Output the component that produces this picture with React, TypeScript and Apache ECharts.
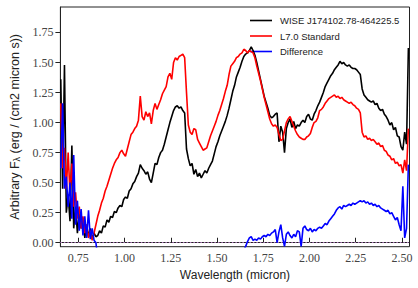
import React, { useEffect, useRef } from "react";
import * as echarts from "echarts";

// Wavelength grid (micron)
const wavelength = [
  0.655, 0.665, 0.675, 0.685, 0.695, 0.705, 0.715, 0.725, 0.735, 0.745,
  0.755, 0.765, 0.775, 0.785, 0.795, 0.805, 0.815, 0.825, 0.835, 0.845,
  0.855, 0.865, 0.875, 0.885, 0.895, 0.905, 0.915, 0.925, 0.935, 0.945,
  0.955, 0.965, 0.975, 0.985, 0.995, 1.005, 1.015, 1.025, 1.035, 1.045,
  1.055, 1.065, 1.075, 1.085, 1.095, 1.105, 1.115, 1.125, 1.135, 1.145,
  1.155, 1.165, 1.175, 1.185, 1.195, 1.205, 1.215, 1.225, 1.235, 1.245,
  1.255, 1.265, 1.275, 1.285, 1.295, 1.305, 1.315, 1.325, 1.335, 1.345,
  1.355, 1.365, 1.375, 1.385, 1.395, 1.405, 1.415, 1.425, 1.435, 1.445,
  1.455, 1.465, 1.475, 1.485, 1.495, 1.505, 1.515, 1.525, 1.535, 1.545,
  1.555, 1.565, 1.575, 1.585, 1.595, 1.605, 1.615, 1.625, 1.635, 1.645,
  1.655, 1.665, 1.675, 1.685, 1.695, 1.705, 1.715, 1.725, 1.735, 1.745,
  1.755, 1.765, 1.775, 1.785, 1.795, 1.805, 1.815, 1.825, 1.835, 1.845,
  1.855, 1.865, 1.875, 1.885, 1.895, 1.905, 1.915, 1.925, 1.935, 1.945,
  1.955, 1.965, 1.975, 1.985, 1.995, 2.005, 2.015, 2.025, 2.035, 2.045,
  2.055, 2.065, 2.075, 2.085, 2.095, 2.105, 2.115, 2.125, 2.135, 2.145,
  2.155, 2.165, 2.175, 2.185, 2.195, 2.205, 2.215, 2.225, 2.235, 2.245,
  2.255, 2.265, 2.275, 2.285, 2.295, 2.305, 2.315, 2.325, 2.335, 2.345,
  2.355, 2.365, 2.375, 2.385, 2.395, 2.405, 2.415, 2.425, 2.435, 2.445,
  2.455, 2.465, 2.475, 2.485, 2.495, 2.505, 2.515, 2.525, 2.535,
];

const wiseFlux = [
  1.36, 0.45, 1.48, 0.25, 0.40, 0.18, 0.81, 0.12, 0.30, 0.08,
  0.25, 0.12, 0.20, 0.04, 0.15, 0.05, 0.12, 0.03, 0.08, 0.05,
  0.06, 0.10, 0.08, 0.14, 0.13, 0.19, 0.17, 0.22, 0.21, 0.26,
  0.25, 0.29, 0.31, 0.30, 0.36, 0.38, 0.37, 0.43, 0.45, 0.49,
  0.51, 0.55, 0.58, 0.65, 0.62, 0.60, 0.57, 0.59, 0.53, 0.50,
  0.58, 0.66, 0.65, 0.71, 0.75, 0.77, 0.82, 0.88, 0.94, 1.00,
  1.05, 1.10, 1.13, 1.14, 1.12, 1.13, 1.10, 1.08, 0.78, 0.70,
  0.64, 0.66, 0.57, 0.61, 0.55, 0.58, 0.54, 0.57, 0.60, 0.58,
  0.62, 0.65, 0.68, 0.74, 0.80, 0.84, 0.89, 0.93, 0.97, 1.01,
  1.06, 1.12, 1.19, 1.26, 1.31, 1.38, 1.42, 1.46, 1.51, 1.55,
  1.57, 1.58, 1.60, 1.63, 1.60, 1.56, 1.50, 1.43, 1.36, 1.29,
  1.22, 1.17, 1.12, 1.06, 1.04, 1.05, 1.07, 1.08, 0.84, 0.97,
  0.92, 0.75, 0.95, 1.00, 1.03, 0.96, 1.01, 0.95, 0.98, 0.97,
  1.00, 1.02, 1.00, 1.05, 1.07, 1.03, 1.02, 1.07, 1.10, 1.14,
  1.17, 1.21, 1.25, 1.30, 1.33, 1.36, 1.39, 1.41, 1.44, 1.46,
  1.48, 1.51, 1.49, 1.50, 1.48, 1.47, 1.48, 1.46, 1.45, 1.45,
  1.44, 1.42, 1.40, 1.28, 1.23, 1.21, 1.19, 1.18, 1.17, 1.18,
  1.15, 1.16, 1.12, 1.10, 1.11, 1.07, 1.05, 1.02, 0.98, 1.00,
  0.94, 0.96, 0.89, 0.88, 0.80, 0.77, 0.92, 0.82, 1.62,
];

const standardFlux = [
  1.16, 0.62, 0.79, 0.45, 0.75, 0.40, 0.66, 0.30, 0.42, 0.20,
  0.30, 0.12, 0.22, 0.08, 0.15, 0.04, 0.10, 0.02, 0.08, 0.15,
  0.22, 0.27, 0.33, 0.37, 0.43, 0.47, 0.52, 0.57, 0.62, 0.66,
  0.69, 0.71, 0.75, 0.77, 0.74, 0.72, 0.78, 0.84, 0.90, 0.92,
  0.95, 0.97, 1.02, 1.22, 1.05, 1.02, 1.09, 1.05, 1.08, 0.99,
  1.10, 1.16, 1.11, 1.15, 1.19, 1.24, 1.27, 1.30, 1.38, 1.41,
  1.36, 1.50, 1.54, 1.52, 1.55, 1.56, 1.57, 1.54, 1.25, 0.98,
  0.92, 0.90, 0.95, 0.94, 0.86, 0.83, 0.80, 0.77, 0.78, 0.79,
  0.84, 0.89, 0.93, 0.97, 1.01, 1.06, 1.10, 1.15, 1.20, 1.26,
  1.31, 1.40, 1.47, 1.49, 1.51, 1.54, 1.55, 1.57, 1.58, 1.61,
  1.60, 1.58, 1.60, 1.59, 1.58, 1.54, 1.47, 1.41, 1.35, 1.28,
  1.21, 1.15, 1.09, 1.03, 0.99, 0.97, 0.98, 0.96, 0.90, 0.85,
  0.86, 0.93, 1.00, 1.03, 1.05, 1.01, 0.97, 0.93, 0.90, 0.88,
  0.87, 0.86, 0.86, 0.88, 0.89, 0.91, 0.96, 1.00, 1.01, 1.04,
  1.10, 1.11, 1.13, 1.16, 1.18, 1.20, 1.21, 1.22, 1.23, 1.21,
  1.22, 1.20, 1.21, 1.19, 1.18, 1.17, 1.16, 1.17, 1.15, 1.14,
  1.12, 1.11, 1.08, 0.92, 0.88, 0.89, 0.86, 0.87, 0.85, 0.86,
  0.84, 0.82, 0.83, 0.80, 0.81, 0.77, 0.76, 0.73, 0.72, 0.69,
  0.70, 0.66, 0.67, 0.64, 0.65, 0.58, 0.69, 0.60, 0.95,
];

const differenceFlux = [
  0.62, 1.16, 0.45, 0.55, 0.30, 0.50, 0.20, 0.73, 0.15, 0.35,
  0.10, 0.28, 0.06, 0.22, 0.04, 0.27, 0.03, 0.12, 0.02, 0.00,
  -0.12, -0.17, -0.25, -0.23, -0.30, -0.28, -0.35, -0.35, -0.41, -0.40,
  -0.44, -0.42, -0.44, -0.47, -0.38, -0.34, -0.41, -0.41, -0.45, -0.43,
  -0.44, -0.42, -0.47, -0.57, -0.40, -0.42, -0.47, -0.46, -0.55, -0.49,
  -0.52, -0.50, -0.46, -0.44, -0.44, -0.47, -0.45, -0.42, -0.44, -0.33,
  -0.31, -0.40, -0.41, -0.38, -0.42, -0.43, -0.47, -0.46, -0.47, -0.28,
  -0.28, -0.24, -0.38, -0.33, -0.31, -0.25, -0.26, -0.20, -0.18, -0.21,
  -0.22, -0.24, -0.25, -0.23, -0.21, -0.22, -0.21, -0.22, -0.24, -0.25,
  -0.25, -0.27, -0.28, -0.23, -0.20, -0.16, -0.13, -0.11, -0.07, -0.06,
  -0.03, 0.01, 0.04, 0.05, 0.02, 0.03, 0.02, 0.04, 0.03, 0.05,
  0.06, 0.05, 0.07, 0.06, 0.08, 0.09, 0.11, 0.00, 0.09, 0.15,
  0.04, -0.03, 0.07, 0.09, 0.06, 0.04, 0.07, 0.05, 0.10, 0.09,
  -0.03, 0.12, 0.14, 0.11, 0.10, 0.12, 0.09, 0.11, 0.10, 0.12,
  0.13, 0.12, 0.14, 0.16, 0.15, 0.18, 0.20, 0.22, 0.24, 0.27,
  0.29, 0.30, 0.28, 0.31, 0.30, 0.31, 0.32, 0.31, 0.33, 0.32,
  0.33, 0.34, 0.35, 0.34, 0.35, 0.33, 0.34, 0.32, 0.33, 0.31,
  0.32, 0.30, 0.31, 0.29, 0.28, 0.27, 0.26, 0.27, 0.24, 0.25,
  0.22, 0.19, 0.21, 0.15, 0.10, 0.47, 0.04, 0.12, 0.65,
];

const seriesNames = ["WISE J174102.78-464225.5", "L7.0 Standard", "Difference"];
const xTicks = [0.75, 1.0, 1.25, 1.5, 1.75, 2.0, 2.25, 2.5];
const yTicks = [0, 0.25, 0.5, 0.75, 1.0, 1.25, 1.5, 1.75];
const zeroLevel = 0;

const pair = (vals: number[]) => wavelength.map((w, i) => [w, vals[i]]);

export default function App() {
  const ref = useRef<HTMLDivElement>(null);
  useEffect(() => {
    if (!ref.current) return;
    const chart = echarts.init(ref.current, undefined, { renderer: "svg" });
    const tickFont = { fontFamily: "Liberation Serif", fontSize: 12, color: "#444" };
    const titleFont = { fontFamily: "Liberation Sans", fontSize: 12, color: "#222" };
    chart.setOption({
      animation: false,
      grid: {
        left: 52, right: 8.5, top: 7, bottom: 41.3,
        show: true, borderColor: "#222", borderWidth: 1,
      },
      legend: {
        data: seriesNames,
        orient: "vertical",
        left: 250,
        top: 15,
        icon: "rect",
        itemWidth: 22,
        itemHeight: 1.6,
        itemGap: 4.5,
        padding: 0,
        textStyle: {
          fontFamily: "Liberation Sans", fontSize: 9.5, color: "#222",
          lineHeight: 11, padding: [0, 0, 0, 3],
        },
      },
      xAxis: {
        type: "value",
        min: 0.653,
        max: 2.541,
        name: "Wavelength (micron)",
        nameLocation: "middle",
        nameGap: 20,
        nameTextStyle: titleFont,
        axisLine: { show: true, lineStyle: { color: "#222" } },
        axisTick: { show: true, inside: true, length: 5, customValues: xTicks, lineStyle: { color: "#222" } },
        axisLabel: { ...tickFont, margin: 5, customValues: xTicks, formatter: (v: number) => v.toFixed(2) },
        splitLine: { show: false },
      },
      yAxis: {
        type: "value",
        min: -0.033,
        max: 1.962,
        name: "Arbitrary F{s|λ} (erg / (cm2 micron s))",
        nameLocation: "middle",
        nameGap: 36,
        nameTextStyle: {
          ...titleFont,
          fontSize: 12.5,
          rich: { s: { fontFamily: "Liberation Sans", fontSize: 9, color: "#222", padding: [5, 0, 0, 0] } },
        },
        axisLine: { show: true, lineStyle: { color: "#222" } },
        axisTick: { show: true, inside: false, length: 5, customValues: yTicks, lineStyle: { color: "#222" } },
        axisLabel: { ...tickFont, margin: 7, customValues: yTicks, formatter: (v: number) => v.toFixed(2) },
        splitLine: { show: false },
      },
      series: [
        {
          name: seriesNames[0],
          type: "line",
          data: pair(wiseFlux),
          symbol: "none",
          lineStyle: { color: "#000000", width: 1.6 },
          itemStyle: { color: "#000000" },
          z: 4,
          markLine: {
            silent: true,
            symbol: "none",
            label: { show: false },
            lineStyle: { color: "#b27cc0", width: 1, type: [1.5, 2] },
            data: [{ yAxis: zeroLevel }],
          },
        },
        {
          name: seriesNames[1],
          type: "line",
          data: pair(standardFlux),
          symbol: "none",
          lineStyle: { color: "#ff0000", width: 1.6 },
          itemStyle: { color: "#ff0000" },
          z: 5,
        },
        {
          name: seriesNames[2],
          type: "line",
          data: pair(differenceFlux),
          symbol: "none",
          lineStyle: { color: "#0000ff", width: 1.6 },
          itemStyle: { color: "#0000ff" },
          z: 6,
        },
      ],
    });
    return () => chart.dispose();
  }, []);
  return (
    <div
      ref={ref}
      style={{ position: "fixed", left: 0, top: 0, width: 418, height: 288, background: "#fff" }}
    />
  );
}
